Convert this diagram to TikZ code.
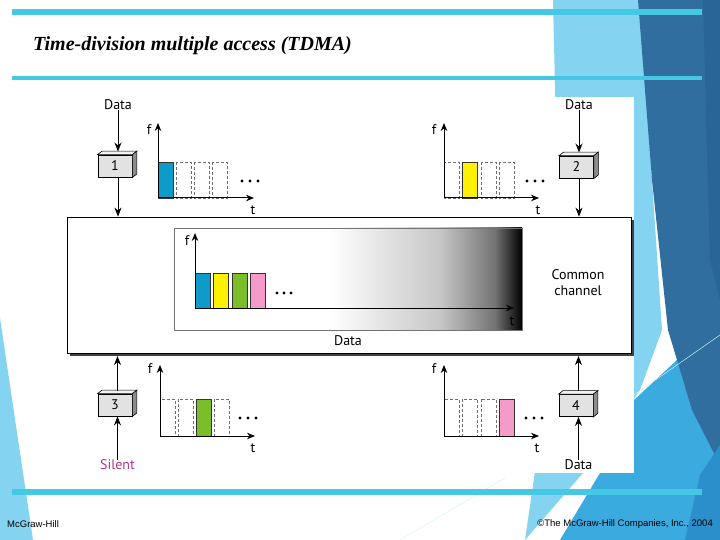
\documentclass[tikz,border=0pt]{standalone}
\usepackage{fontspec}
\setmainfont{Liberation Serif}
\newfontfamily\diagfont{PT Sans}
\newfontfamily\footfont{Liberation Sans}
\usetikzlibrary{arrows.meta,calc}

\definecolor{cyanline}{HTML}{45C8E3}
\definecolor{lightblue}{HTML}{84D3F1}
\definecolor{darkblue}{HTML}{2F6E9E}
\definecolor{darkstrip}{HTML}{2A6598}
\definecolor{midblue}{HTML}{3AAADF}
\definecolor{midblueb}{HTML}{2B8FCB}
\definecolor{boxfront}{HTML}{E2E2E2}
\definecolor{boxtop}{HTML}{F2F2F2}
\definecolor{boxside}{HTML}{8C8C8C}
\definecolor{slotblue}{HTML}{0F9BC9}
\definecolor{slotyellow}{HTML}{FFF200}
\definecolor{slotgreen}{HTML}{7CBD2A}
\definecolor{slotpink}{HTML}{F49BC9}
\definecolor{silentcol}{HTML}{B0358A}
\definecolor{dashgray}{HTML}{6E6E6E}

\newcommand\boxfaces[1]{%
  \fill[boxtop,draw=black,line width=0.6pt] (#1.north west) -- ++(4.5,-3.5) -- ($(#1.north east)+(4.5,-3.5)$) -- (#1.north east) -- cycle;
  \fill[boxside,draw=black,line width=0.6pt] (#1.north east) -- ++(4.5,-3.5) -- ($(#1.south east)+(4.5,-3.5)$) -- (#1.south east) -- cycle;}

\begin{document}
\begin{tikzpicture}[x=1pt,y=-1pt,
  arr/.style={-{Stealth[length=9pt,width=7pt]}, line width=1pt},
  lbl/.style={font=\diagfont\fontsize{14}{14}\selectfont, inner sep=0pt},
  axislbl/.style={font=\diagfont\fontsize{14}{14}\selectfont, inner sep=0pt},
  stationbox/.style={draw=black, line width=0.8pt, fill=boxfront, minimum width=34pt, minimum height=22pt, inner sep=0pt, font=\diagfont\fontsize{14}{14}\selectfont},
  emptyslot/.style={draw=dashgray, line width=0.7pt, dash pattern=on 3pt off 2pt},
  fullslot/.style={draw=black!80, line width=0.7pt},
  axisline/.style={-{Stealth[length=8pt,width=6.5pt]}, line width=1pt},
  dotmark/.style={fill=black}]

\useasboundingbox (0,0) rectangle (720,540);
\fill[white] (0,0) rectangle (720,540);

% background decoration
\fill[lightblue] (0,318) -- (33,540) -- (0,540) -- cycle;
\fill[lightblue] (553,0) -- (640,0) -- (662,330) -- (640,390) -- (583,473) -- (525,540) -- (560,300) -- cycle;
\fill[midblue] (560,540) -- (600,473) -- (634,400) -- (720,320) -- (720,540) -- cycle;
\fill[darkblue] (638,0) -- (720,0) -- (720,465) -- (692,410) -- (668,330) -- (652,180) -- cycle;
\fill[darkstrip] (703,0) -- (720,0) -- (720,300) -- (710,260) -- cycle;
\fill[midblueb] (685,540) -- (700,475) -- (720,445) -- (720,540) -- cycle;
\draw[white!60!lightblue, line width=0.5pt] (634,395) -- (720,335);
\draw[white!70!lightblue, line width=0.5pt] (400,540) -- (505,478);

% white panel
\fill[white] (95,97) rectangle (634,473);

% bands
\fill[cyanline] (12,9) rectangle (702,15);
\fill[cyanline] (12,76) rectangle (702,80);
\fill[cyanline] (12,489) rectangle (702,495);

% title and footer
\node[anchor=west, inner sep=0pt, font=\fontsize{20}{20}\selectfont\bfseries\itshape] (title) at (33,46) {Time-division multiple access (TDMA)};
\node[anchor=west, inner sep=0pt, font=\footfont\fontsize{9.5}{9.5}\selectfont] (mh) at (7,524) {McGraw-Hill};
\node[anchor=east, inner sep=0pt, font=\footfont\fontsize{9.5}{9.5}\selectfont] (copy) at (713,524) {©The McGraw-Hill Companies, Inc., 2004};

% common channel
\fill[black!75] (70,220) rectangle (634,356);
\node[draw=black, line width=0.8pt, fill=white, minimum width=564pt, minimum height=136pt, inner sep=0pt] (ch) at (349,285) {};
\node[lbl, align=center] (cc) at (578,283) {Common\\[2pt]channel};
% gradient area
\fill[white] (174,228) rectangle (330,330);
\shade[left color=white, right color=black!22] (330,228) rectangle (440,330);
\shade[left color=black!22, right color=black!55] (440,228) rectangle (495,330);
\shade[left color=black!55, right color=black] (495,228) rectangle (522,330);
\draw[black!55, line width=0.6pt] (174,228) rectangle (522,330);
\node[lbl] (chdata) at (348,341) {Data};
\coordinate (o0) at (195,308);
\foreach \xx/\cc in {195/slotblue,213.5/slotyellow,232/slotgreen,250.5/slotpink}
  \filldraw[fullslot, fill=\cc] (\xx,273) rectangle ++(15,35);
\draw[axisline] (o0) -- (195,233);
\draw[axisline] (o0) -- (514,308);
\node[axislbl] (f0) at (187,241) {f};
\node[axislbl] (t0) at (512,321) {t};
\foreach \xx in {277,284,291} \fill[dotmark] (\xx,293) circle (1.6);

% ---------- station 1
\node[lbl] (d1) at (118,105) {Data};
\node[stationbox] (b1) at (115,166) {1};
\boxfaces{b1}
\coordinate (a1) at (118,151.5);
\draw[arr] (d1.south) -- (a1);
\draw[arr] (b1.south -| a1) -- (a1 |- ch.north);
\coordinate (o1) at (158,198);
\foreach \xx in {176,194,212} \draw[emptyslot] (\xx,162) rectangle ++(15,36);
\filldraw[fullslot, fill=slotblue] (158,162) rectangle ++(15,36);
\draw[axisline] (o1) -- (158,123);
\draw[axisline] (o1) -- (254,198);
\node[axislbl] (f1) at (149,130) {f};
\node[axislbl] (t1) at (253,210) {t};
\foreach \xx in {242,250,258} \fill[dotmark] (\xx,181) circle (1.6);

% ---------- station 2
\node[lbl] (d2) at (579,105) {Data};
\node[stationbox] (b2) at (576.5,167) {2};
\boxfaces{b2}
\coordinate (a2) at (579,152.5);
\draw[arr] (d2.south) -- (a2);
\draw[arr] (b2.south -| a2) -- (a2 |- ch.north);
\coordinate (o2) at (444,198);
\foreach \xx in {444,481,499} \draw[emptyslot] (\xx,162) rectangle ++(15,36);
\filldraw[fullslot, fill=slotyellow] (462.5,162) rectangle ++(15,36);
\draw[axisline] (o2) -- (444,123);
\draw[axisline] (o2) -- (539,198);
\node[axislbl] (f2) at (434,130) {f};
\node[axislbl] (t2) at (538,210) {t};
\foreach \xx in {527,535,543} \fill[dotmark] (\xx,181) circle (1.6);

% ---------- station 3
\node[lbl, text=silentcol] (s3) at (117.5,465) {Silent};
\node[stationbox] (b3) at (115,405) {3};
\boxfaces{b3}
\coordinate (a3) at (117.5,390.5);
\coordinate (chb3) at (117.5,356);
\draw[arr] (s3.north) -- (s3.north |- b3.south);
\draw[arr] (a3) -- (chb3);
\coordinate (o3) at (160,436);
\foreach \xx in {160,178,214} \draw[emptyslot] (\xx,399) rectangle ++(15.5,37);
\filldraw[fullslot, fill=slotgreen] (196.5,399) rectangle ++(15,37);
\draw[axisline] (o3) -- (160,365);
\draw[axisline] (o3) -- (255,436);
\node[axislbl] (f3) at (150,369) {f};
\node[axislbl] (t3) at (253,448) {t};
\foreach \xx in {240,248,256} \fill[dotmark] (\xx,418) circle (1.6);

% ---------- station 4
\node[lbl] (d4) at (578.5,465) {Data};
\node[stationbox] (b4) at (576,405.5) {4};
\boxfaces{b4}
\coordinate (a4) at (578.5,391);
\coordinate (chb4) at (578.5,356);
\draw[arr] (d4.north) -- (d4.north |- b4.south);
\draw[arr] (a4) -- (chb4);
\coordinate (o4) at (444,436);
\foreach \xx in {444,462.5,481} \draw[emptyslot] (\xx,399) rectangle ++(15,37);
\filldraw[fullslot, fill=slotpink] (499,399) rectangle ++(15,37);
\draw[axisline] (o4) -- (444,365);
\draw[axisline] (o4) -- (539,436);
\node[axislbl] (f4) at (434,369) {f};
\node[axislbl] (t4) at (537,448) {t};
\foreach \xx in {526,534,542} \fill[dotmark] (\xx,418) circle (1.6);

\end{tikzpicture}
\end{document}
